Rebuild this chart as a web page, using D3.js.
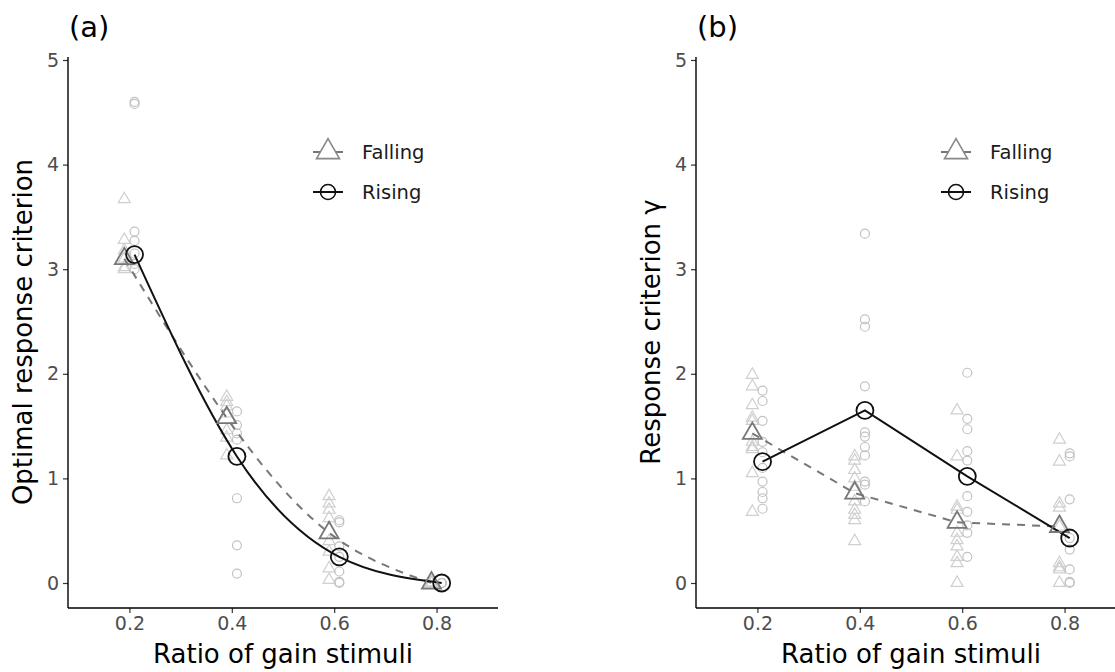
<!DOCTYPE html>
<html>
<head>
<meta charset="utf-8">
<script src="https://cdn.jsdelivr.net/npm/d3@7"></script>
<style>
  body { margin: 0; background: #fff; }
  svg { display: block; font-family: "DejaVu Sans", sans-serif; }
</style>
</head>
<body>
<div id="chart"></div>
<script>
// x positions (ratio of gain stimuli)
var ratios = [0.2, 0.4, 0.6, 0.8];

// panel (a): optimal response criterion
var optFallingMean = [3.10, 1.58, 0.48, 0.00];
var optRisingMean = [3.14, 1.21, 0.25, 0.00];
var optFallingPts = [
  [3.67, 3.28, 3.18, 3.10, 3.02, 3.00],
  [1.78, 1.73, 1.69, 1.62, 1.46, 1.39, 1.22],
  [0.83, 0.76, 0.70, 0.62, 0.40, 0.30, 0.14, 0.03],
  [0.00, 0.00, 0.00, 0.00, 0.00]
];
var optRisingPts = [
  [4.60, 4.58, 3.36, 3.27, 3.15, 3.05, 3.00],
  [1.64, 1.51, 1.43, 1.37, 0.81, 0.36, 0.09],
  [0.60, 0.58, 0.35, 0.25, 0.11, 0.01, 0.00],
  [0.00, 0.00, 0.00, 0.00]
];

// panel (b): response criterion gamma
var critFallingMean = [1.43, 0.86, 0.58, 0.54];
var critRisingMean = [1.16, 1.65, 1.02, 0.43];
var critFallingPts = [
  [1.99, 1.88, 1.70, 1.58, 1.55, 1.35, 1.30, 1.28, 1.05, 0.68],
  [1.21, 1.17, 1.08, 1.00, 0.92, 0.78, 0.70, 0.65, 0.60, 0.40],
  [1.65, 1.21, 0.73, 0.70, 0.48, 0.41, 0.35, 0.25, 0.19, 0.00],
  [1.37, 1.16, 0.76, 0.72, 0.54, 0.19, 0.15, 0.13, 0.00]
];
var critRisingPts = [
  [1.84, 1.74, 1.55, 1.35, 1.25, 1.10, 0.97, 0.87, 0.81, 0.71],
  [3.34, 2.52, 2.45, 1.88, 1.44, 1.40, 1.30, 1.22, 0.97, 0.94, 0.78],
  [2.01, 1.57, 1.47, 1.26, 1.17, 0.83, 0.68, 0.55, 0.48, 0.25],
  [1.24, 1.21, 0.80, 0.43, 0.32, 0.13, 0.01, 0.00]
];

var yTicks = [0, 1, 2, 3, 4, 5];
var seriesNames = ["Falling", "Rising"];

var W = 1115, H = 672;
var svg = d3.select("#chart").append("svg")
  .attr("width", W).attr("height", H);

var dodge = 0.01;
var axisTop = 57, axisBottom = 608, panelW = 430;

var y = d3.scaleLinear().domain([0, 5]).range([583, 60]);

function triPath(width) {
  // d3 triangle size from wanted width
  var r = width / (2 * Math.sqrt(3));
  return d3.symbol().type(d3.symbolTriangle).size(r * r * 3 * Math.sqrt(3))();
}

function drawPanel(left, label, yTitle, fallMean, riseMean, fallPts, risePts, smooth) {
  var x = d3.scaleLinear().domain([0.08, 0.92]).range([left, left + panelW]);
  var g = svg.append("g");

  // raw points
  fallPts.forEach(function(arr, i) {
    g.selectAll(null).data(arr).enter().append("path")
      .attr("d", triPath(12))
      .attr("transform", function(d) { return "translate(" + x(ratios[i] - dodge) + "," + y(d) + ")"; })
      .attr("fill", "none").attr("stroke", "#cfcfcf").attr("stroke-width", 1.2);
  });
  risePts.forEach(function(arr, i) {
    g.selectAll(null).data(arr).enter().append("circle")
      .attr("cx", x(ratios[i] + dodge)).attr("cy", function(d) { return y(d); })
      .attr("r", 4.5)
      .attr("fill", "none").attr("stroke", "#c2c2c2").attr("stroke-width", 1.2);
  });

  var line = d3.line().curve(smooth ? d3.curveNatural : d3.curveLinear);

  g.append("path")
    .attr("d", line(fallMean.map(function(v, i) { return [x(ratios[i] - dodge), y(v)]; })))
    .attr("fill", "none").attr("stroke", "#777").attr("stroke-width", 2)
    .attr("stroke-dasharray", "8,7");
  g.append("path")
    .attr("d", line(riseMean.map(function(v, i) { return [x(ratios[i] + dodge), y(v)]; })))
    .attr("fill", "none").attr("stroke", "#111").attr("stroke-width", 2);

  g.selectAll(null).data(fallMean).enter().append("path")
    .attr("d", triPath(19))
    .attr("transform", function(d, i) { return "translate(" + x(ratios[i] - dodge) + "," + y(d) + ")"; })
    .attr("fill", "none").attr("stroke", "#777").attr("stroke-width", 1.8);
  g.selectAll(null).data(riseMean).enter().append("circle")
    .attr("cx", function(d, i) { return x(ratios[i] + dodge); })
    .attr("cy", function(d) { return y(d); })
    .attr("r", 8.5)
    .attr("fill", "none").attr("stroke", "#111").attr("stroke-width", 1.8);

  // axes
  var xAxis = d3.axisBottom(x).tickValues(ratios).tickSize(5).tickPadding(4)
    .tickFormat(d3.format(".1f"));
  var gx = g.append("g").attr("transform", "translate(0," + axisBottom + ")").call(xAxis);
  gx.select(".domain").remove();
  gx.append("line").attr("x1", left).attr("x2", left + panelW)
    .attr("stroke", "#000").attr("stroke-width", 1.4);

  var yAxis = d3.axisLeft(y).tickValues(yTicks).tickSize(5).tickPadding(4)
    .tickFormat(d3.format("d"));
  var gy = g.append("g").attr("transform", "translate(" + left + ",0)").call(yAxis);
  gy.select(".domain").remove();
  gy.append("line").attr("x1", 0).attr("x2", 0)
    .attr("y1", axisTop).attr("y2", axisBottom)
    .attr("stroke", "#000").attr("stroke-width", 1.4);

  [gx, gy].forEach(function(a) {
    a.selectAll(".tick line").attr("stroke", "#333").attr("stroke-width", 1.2);
    a.selectAll(".tick text").attr("fill", "#4d4d4d")
      .style("font-size", "19px").style("font-family", "DejaVu Sans, sans-serif");
  });

  // titles
  g.append("text").attr("x", left + panelW / 2).attr("y", 663)
    .attr("text-anchor", "middle").style("font-size", "26px").attr("fill", "#000")
    .text("Ratio of gain stimuli");
  g.append("text")
    .attr("transform", "translate(" + (left - 36) + ",332) rotate(-90)")
    .attr("text-anchor", "middle").style("font-size", "26px").attr("fill", "#000")
    .text(yTitle);
  g.append("text").attr("x", left + 1).attr("y", 37)
    .style("font-size", "29px").attr("fill", "#000").text(label);

  // legend
  var lx = left + 260;
  var lg = g.append("g");
  lg.append("line").attr("x1", lx - 15).attr("x2", lx + 15).attr("y1", 152).attr("y2", 152)
    .attr("stroke", "#777").attr("stroke-width", 2);
  lg.append("path").attr("d", triPath(23))
    .attr("transform", "translate(" + lx + ",152)")
    .attr("fill", "#fff").attr("stroke", "#888").attr("stroke-width", 1.6);
  lg.append("line").attr("x1", lx - 15).attr("x2", lx + 15).attr("y1", 192).attr("y2", 192)
    .attr("stroke", "#111").attr("stroke-width", 2);
  lg.append("circle").attr("cx", lx).attr("cy", 192).attr("r", 7.5)
    .attr("fill", "none").attr("stroke", "#111").attr("stroke-width", 1.6);
  lg.selectAll("text.leg").data(seriesNames).enter().append("text")
    .attr("class", "leg")
    .attr("x", left + 294).attr("y", function(d, i) { return 152 + i * 40; })
    .attr("dy", "0.35em").style("font-size", "19.5px").attr("fill", "#1a1a1a")
    .text(function(d) { return d; });
}

drawPanel(68, "(a)", "Optimal response criterion",
  optFallingMean, optRisingMean, optFallingPts, optRisingPts, true);
drawPanel(696, "(b)", "Response criterion \u03b3",
  critFallingMean, critRisingMean, critFallingPts, critRisingPts, false);
</script>
</body>
</html>
